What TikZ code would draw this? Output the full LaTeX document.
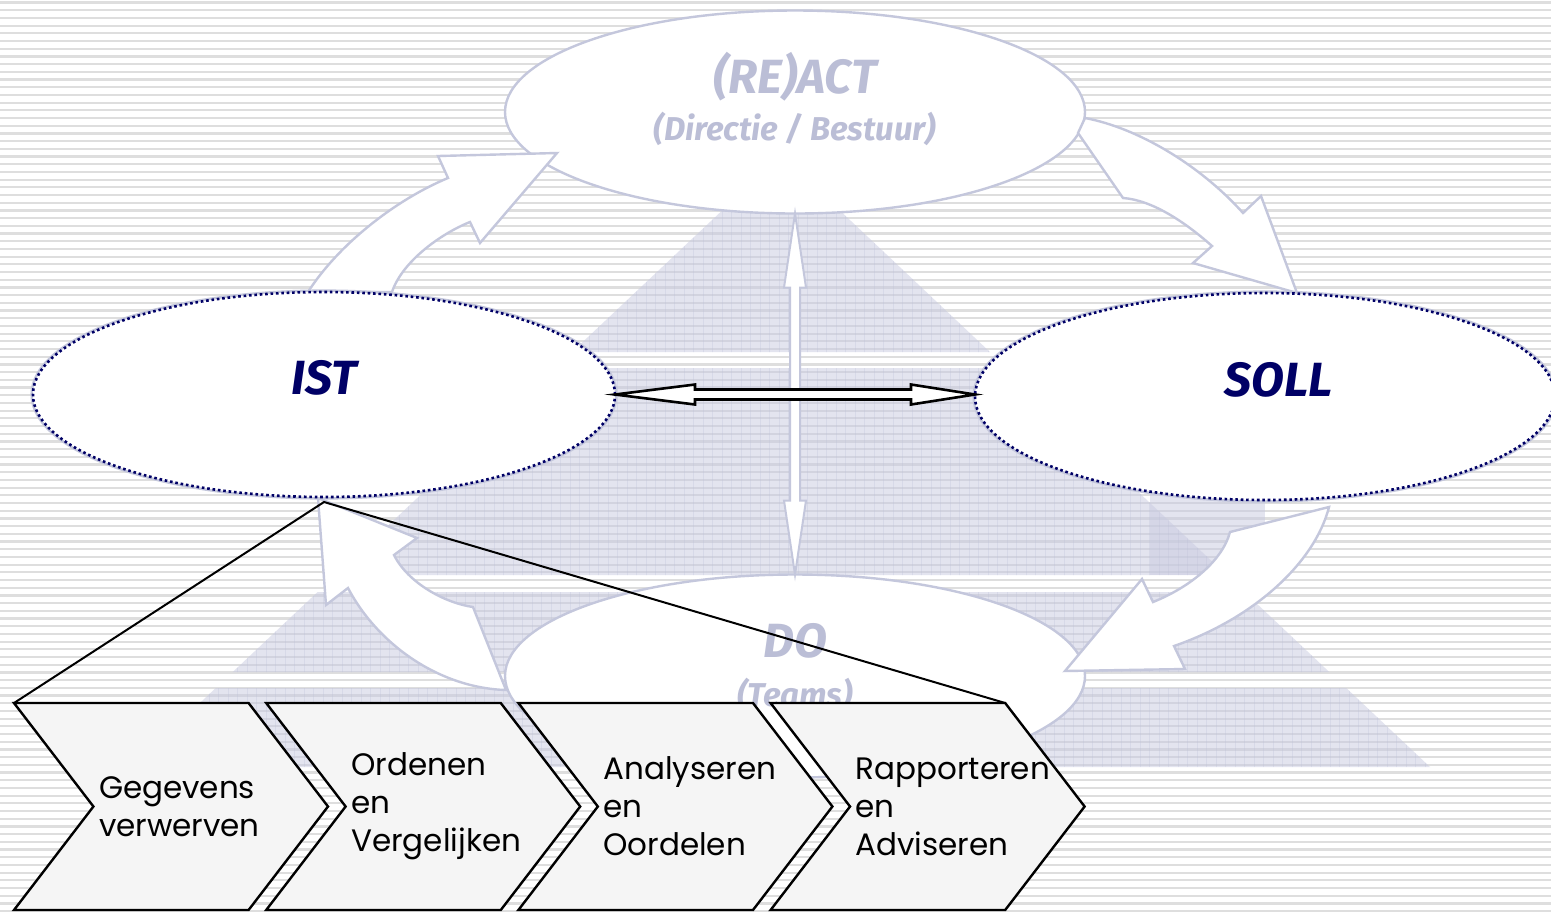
\documentclass[tikz,border=0pt]{standalone}
\usepackage{fontspec}
\setmainfont{Poppins}
\newfontfamily\headfont{Fira Sans}
\usetikzlibrary{shapes.geometric,shapes.symbols,calc}

\definecolor{lavline}{RGB}{196,199,220}
\definecolor{lavtext}{RGB}{187,190,214}
\definecolor{navy}{RGB}{0,0,102}
\definecolor{pyrfill}{RGB}{200,202,224}
\definecolor{pyrline}{RGB}{190,192,216}
\definecolor{stripegray}{RGB}{222,222,222}
\definecolor{stepfill}{RGB}{245,245,245}

\begin{document}
\begin{tikzpicture}[x=0.5pt, y=-0.5pt,
    stripe/.style={draw=stripegray, line width=1.1pt},
    pyrgrid/.style={draw=pyrline, line width=0.3pt, opacity=0.3},
    bubble/.style={ellipse, draw=lavline, line width=1.2pt, fill=white,
        inner sep=0pt, outer sep=0pt, minimum width=290pt, minimum height=101.5pt},
    dotbubble/.style={bubble, draw=navy, line width=1.3pt, dash pattern=on 1.3pt off 1.4pt,
        preaction={draw=lavline, line width=2.6pt, solid}},
    bendarrow/.style={fill=white, draw=lavline, line width=1.2pt},
    thinarrow/.style={fill=white, draw=lavline, line width=1pt},
    duoarrow/.style={fill=white, draw=black, line width=1.3pt},
    zoomline/.style={draw=black, line width=1pt},
    headtxt/.style={font=\headfont\bfseries\itshape\fontsize{24}{28}\selectfont,
        text=navy, anchor=base, inner sep=0pt},
    softtxt/.style={headtxt, text=lavtext},
    subtxt/.style={softtxt, font=\headfont\bfseries\itshape\fontsize{16.5}{19}\selectfont},
    stepbox/.style={signal, signal to=east, signal from=west, signal pointer angle=105,
        draw=black, line width=1.2pt, fill=stepfill, inner sep=0pt, outer sep=0pt,
        minimum width=157pt, minimum height=103.5pt, text width=72pt, align=left,
        font=\fontsize{15.5}{19}\selectfont}
]
    \useasboundingbox (0,0) rectangle (1551,912);
    \fill[white] (0,0) rectangle (1551,912);
    \foreach \k in {0,...,118}
        \draw[stripe] (0,{2.5+7.7*\k}) -- (1551,{2.5+7.7*\k});

    \fill[pyrfill, opacity=0.5] (1150,492) rectangle (1265,575);
    \begin{scope}
        \clip (781,155) -- (1430,767) -- (132,767) -- cycle;
        \clip (0,150) rectangle (1551,352) (0,368) rectangle (1551,575)
              (0,592) rectangle (1551,672) (0,688) rectangle (1551,767);
        \fill[pyrfill, opacity=0.5] (0,0) rectangle (1551,912);
        \draw[pyrgrid] (0,150) grid[step=9.5] (1551,767);
    \end{scope}

    \node[bubble] (react) at (795,112) {};
    \node[bubble] (do) at (795,676) {};
    \node[softtxt] (reacttitle) at ([yshift=9.5pt]react.center) {(RE)ACT};
    \node[subtxt] (reactsub) at ([yshift=-14pt]react.center) {(Directie / Bestuur)};
    \node[softtxt] (dotitle) at ([yshift=9.5pt]do.center) {DO};
    \node[subtxt] (dosub) at ([yshift=-15pt]do.center) {(Teams)};

    \draw[bendarrow] (308,292) .. controls (338,245) and (395,200) .. (448,178) -- (438,156)
        -- (557,153) -- (480,243) -- (470,222) .. controls (440,234) and (402,262) .. (392,292) -- cycle;
    \draw[bendarrow] (1085,118) .. controls (1138,128) and (1200,165) .. (1243,213) -- (1261,196)
        -- (1297,293) -- (1193,263) -- (1212,246) .. controls (1185,222) and (1152,200) .. (1123,198)
        -- (1078,133) -- cycle;
    \draw[bendarrow] (1329,507) .. controls (1315,562) and (1255,618) .. (1174,646) -- (1185,669)
        -- (1065,671) -- (1142,579) -- (1153,602) .. controls (1188,588) and (1222,562) .. (1230,532) -- cycle;
    \draw[bendarrow] (318,498) -- (326,605) -- (348,588) .. controls (378,645) and (440,688) .. (506,690)
        -- (473,607) .. controls (445,603) and (408,583) .. (394,555) -- (417,538) -- cycle;

    \node[dotbubble, minimum width=291pt, minimum height=102.5pt] (ist) at (324,394.5) {};
    \node[dotbubble, minimum height=103.5pt] (soll) at (1265,396.5) {};
    \node[headtxt] (isttitle) at (ist.center) {IST};
    \node[headtxt] (solltitle) at ([xshift=7pt]soll.center) {SOLL};

    \draw[thinarrow] (react.south) -- ++(11,74) -- ++(-6,0) -- ($(do.north)+(5,-74)$) -- ++(6,0)
        -- (do.north) -- ++(-11,-74) -- ++(6,0) -- ($(react.south)+(-5,74)$) -- ++(-6,0) -- cycle;

    \coordinate (sollin) at (soll.west |- ist.east);
    \draw[duoarrow] (ist.east) -- ++(80,-10) -- ++(0,5) -- ($(sollin)+(-64,-5)$) -- ++(0,-5)
        -- (sollin) -- ++(-64,10) -- ++(0,-5) -- ($(ist.east)+(80,5)$) -- ++(0,5) -- cycle;

    \foreach \k/\txt in {0/{Gegevens\\verwerven}, 1/{Ordenen\\en\\Vergelijken},
                         2/{Analyseren\\en\\Oordelen}, 3/{Rapporteren\\en\\Adviseren}}
        \node[stepbox] (c\k) at ({171+252.2*\k},806.5) {\txt};

    \coordinate (apex) at ([yshift=-2.5pt]ist.south);
    \draw[zoomline] (c0.north west) -- (apex) -- (c3.north east);
\end{tikzpicture}
\end{document}
